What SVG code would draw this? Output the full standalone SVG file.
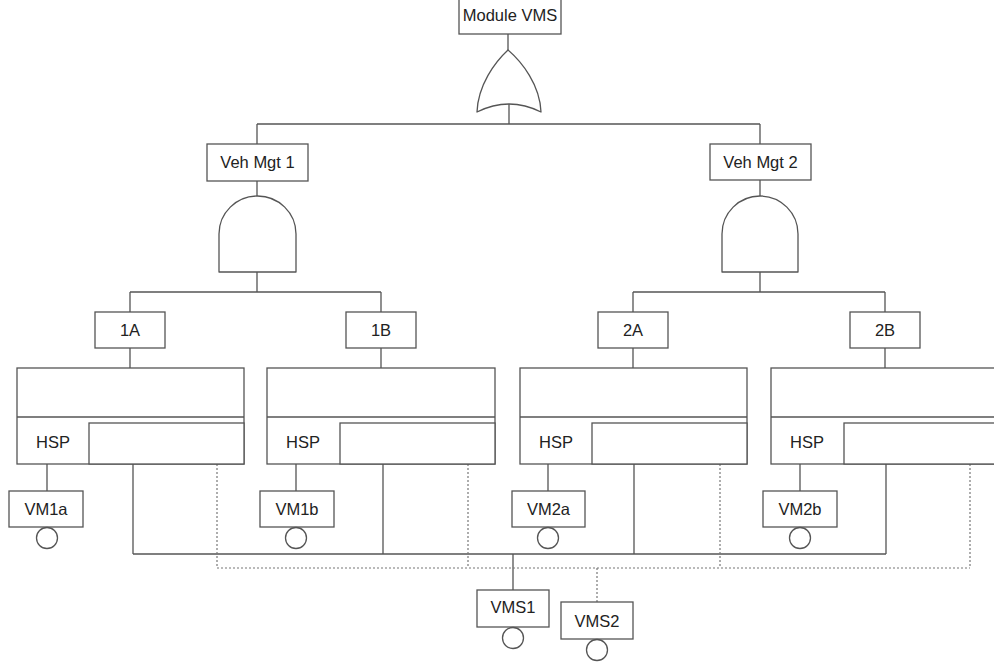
<svg xmlns="http://www.w3.org/2000/svg" width="994" height="665" viewBox="0 0 994 665">
<style>
.b{fill:#fff;stroke:#555;stroke-width:1.3}
.g{fill:#fff;stroke:#555;stroke-width:1.3;stroke-linejoin:round}
.l{fill:none;stroke:#555;stroke-width:1.3}
.d{fill:none;stroke:#777;stroke-width:1.2;stroke-dasharray:2 2}
.t{font-family:"Liberation Sans",Arial,sans-serif;font-size:16.5px;fill:#222;text-anchor:middle}
</style>
<rect width="994" height="665" fill="#fff"/>
<g id="connectors">
<path class="l" d="M508,34V50M509,104V124M257,124H760M257,124V144M760,124V144"/>
<path class="l" d="M257,181V196M257,272V292M130,292H381M130,292V312M381,292V312M130,348V368M381,348V368"/>
<path class="l" d="M760,180V196M760,272V292M633,292H885M633,292V312M885,292V312M633,348V368M885,348V368"/>
<path class="l" d="M47,464V491M296,464V491M548,464V491M800,464V491"/>
<path class="l" d="M133,464V554M383,464V554M634,464V554M886,464V554M133,554H886M513,554V590"/>
<path class="d" d="M217,464V568M468,464V568M720,464V568M970,464V568M217,568H970M597,568V602"/>
</g>
<g id="module-vms"><rect class="b" x="459" y="-2" width="102" height="36"/><text class="t" x="510" y="21">Module VMS</text></g>
<g id="or-gate"><path class="g" d="M508,50C495,62 478,85 477,112Q509,96 541,112C540,85 522,62 508,50Z"/></g>
<g id="veh-mgt-1"><rect class="b" x="207" y="144" width="101" height="37"/><text class="t" x="257.5" y="168">Veh Mgt 1</text></g>
<g id="veh-mgt-2"><rect class="b" x="710" y="144" width="101" height="36"/><text class="t" x="760.5" y="168">Veh Mgt 2</text></g>
<g id="and-gate-1"><path class="g" d="M219,272V234A38.5,38 0 0 1 296,234V272Z"/></g>
<g id="and-gate-2"><path class="g" d="M722,272V234A38,38 0 0 1 798,234V272Z"/></g>
<g id="n1A"><rect class="b" x="95" y="312" width="70" height="36"/><text class="t" x="130" y="336">1A</text></g>
<g id="n1B"><rect class="b" x="346" y="312" width="70" height="36"/><text class="t" x="381" y="336">1B</text></g>
<g id="n2A"><rect class="b" x="598" y="312" width="70" height="36"/><text class="t" x="633" y="336">2A</text></g>
<g id="n2B"><rect class="b" x="850" y="312" width="70" height="36"/><text class="t" x="885" y="336">2B</text></g>
<g id="block-1"><rect class="b" x="17" y="368" width="227" height="96"/><path class="l" d="M17,417H244"/><rect class="b" x="89" y="423" width="155" height="41"/><text class="t" x="53" y="448">HSP</text></g>
<g id="block-2"><rect class="b" x="267" y="368" width="228" height="96"/><path class="l" d="M267,417H495"/><rect class="b" x="340" y="423" width="155" height="41"/><text class="t" x="303" y="448">HSP</text></g>
<g id="block-3"><rect class="b" x="520" y="368" width="227" height="96"/><path class="l" d="M520,417H747"/><rect class="b" x="592" y="423" width="155" height="41"/><text class="t" x="556" y="448">HSP</text></g>
<g id="block-4"><rect class="b" x="771" y="368" width="240" height="96"/><path class="l" d="M771,417H1011"/><rect class="b" x="844" y="423" width="167" height="41"/><text class="t" x="807" y="448">HSP</text></g>
<g id="vm1a"><rect class="b" x="9" y="491" width="74" height="36"/><text class="t" x="46" y="515">VM1a</text><circle class="b" cx="47" cy="538" r="10.5"/></g>
<g id="vm1b"><rect class="b" x="260" y="491" width="74" height="36"/><text class="t" x="297" y="515">VM1b</text><circle class="b" cx="296" cy="538" r="10.5"/></g>
<g id="vm2a"><rect class="b" x="512" y="491" width="73" height="36"/><text class="t" x="548.5" y="515">VM2a</text><circle class="b" cx="548" cy="538" r="10.5"/></g>
<g id="vm2b"><rect class="b" x="763" y="491" width="74" height="36"/><text class="t" x="800" y="515">VM2b</text><circle class="b" cx="800" cy="538" r="10.5"/></g>
<g id="vms1"><rect class="b" x="477" y="590" width="72" height="37"/><text class="t" x="513" y="613">VMS1</text><circle class="b" cx="513" cy="638" r="10.5"/></g>
<g id="vms2"><rect class="b" x="561" y="602" width="72" height="37"/><text class="t" x="597" y="627">VMS2</text><circle class="b" cx="597" cy="650" r="10.5"/></g>
</svg>
